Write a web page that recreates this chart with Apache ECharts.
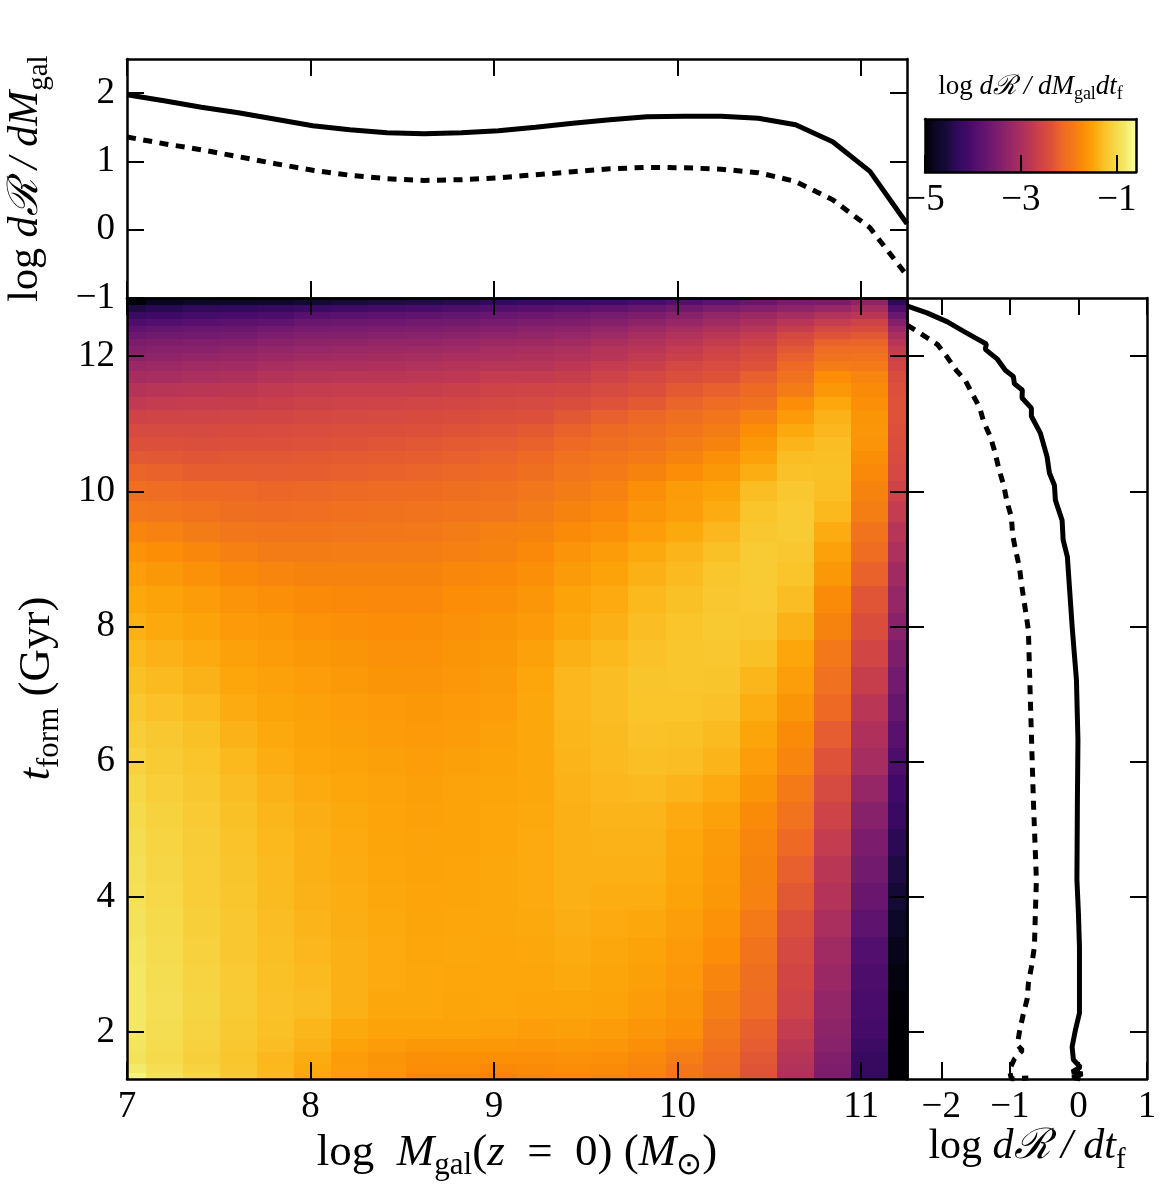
<!DOCTYPE html>
<html>
<head>
<meta charset="utf-8">
<style>
  html, body { margin: 0; padding: 0; background: #fff; }
  #main { width: 1169px; height: 1196px; }
</style>
<script src="https://cdn.jsdelivr.net/npm/echarts@6/dist/echarts.min.js"></script>
</head>
<body>
<div id="main"></div>
<script>
// bin centres of the heatmap (log stellar mass, one per column)
const logMass = [7, 7.202, 7.405, 7.607, 7.81, 8.012, 8.214, 8.417, 8.619, 8.821, 9.024,
  9.226, 9.429, 9.631, 9.833, 10.036, 10.238, 10.44, 10.643, 10.845, 11.048, 11.25];

// rows of the heatmap, read at these formation times (Gyr)
const tForm = [12.8, 12.7, 12.6, 12.5, 12.4, 12.3, 12.2, 12.1, 12.0, 11.85, 11.7, 11.5, 11.3, 11.1, 10.9,
  10.7, 10.5, 10.3, 10.0, 9.7, 9.4, 9.1, 8.8, 8.4, 8.0, 7.6, 7.2, 6.8, 6.4, 6.0, 5.6, 5.2, 4.8, 4.4, 4.0,
  3.6, 3.2, 2.8, 2.4, 2.0, 1.8, 1.6, 1.45, 1.35];

// log dR/dM/dt, one line per tForm, one value per logMass
const rate = [
  [-4.95,-4.8,-4.75,-4.72,-4.7,-4.62,-4.55,-4.5,-4.45,-4.4,-4.3,-4.25,-4.2,-4.15,-4.05,-3.95,-3.8,-3.7,-3.55,-3.5,-3.3,-4.35],
  [-4.5,-4.4,-4.35,-4.3,-4.25,-4.2,-4.15,-4.1,-4.05,-4.0,-3.95,-3.9,-3.85,-3.8,-3.72,-3.62,-3.5,-3.4,-3.3,-3.2,-3.05,-4.0],
  [-4.2,-4.15,-4.1,-4.05,-4.0,-3.9,-3.85,-3.8,-3.78,-3.75,-3.7,-3.65,-3.62,-3.55,-3.48,-3.38,-3.25,-3.15,-3.05,-2.92,-2.82,-3.68],
  [-4.0,-3.95,-3.9,-3.85,-3.8,-3.7,-3.68,-3.65,-3.62,-3.6,-3.55,-3.5,-3.48,-3.4,-3.32,-3.22,-3.1,-3.0,-2.85,-2.7,-2.6,-3.4],
  [-3.8,-3.75,-3.7,-3.68,-3.62,-3.55,-3.52,-3.5,-3.48,-3.45,-3.4,-3.35,-3.32,-3.25,-3.15,-3.05,-2.95,-2.85,-2.68,-2.5,-2.45,-3.18],
  [-3.65,-3.62,-3.58,-3.55,-3.48,-3.42,-3.4,-3.38,-3.35,-3.32,-3.28,-3.25,-3.2,-3.12,-3.02,-2.92,-2.82,-2.72,-2.52,-2.35,-2.3,-3.0],
  [-3.5,-3.48,-3.44,-3.42,-3.35,-3.3,-3.28,-3.25,-3.23,-3.2,-3.15,-3.12,-3.08,-3.0,-2.92,-2.82,-2.72,-2.62,-2.4,-2.2,-2.18,-2.85],
  [-3.4,-3.38,-3.34,-3.3,-3.25,-3.2,-3.18,-3.15,-3.12,-3.1,-3.05,-3.02,-2.98,-2.9,-2.82,-2.72,-2.62,-2.52,-2.3,-2.1,-2.08,-2.72],
  [-3.32,-3.28,-3.24,-3.2,-3.15,-3.1,-3.08,-3.06,-3.05,-3.0,-2.98,-2.95,-2.92,-2.85,-2.75,-2.65,-2.55,-2.45,-2.22,-2.02,-2.0,-2.65],
  [-3.18,-3.15,-3.1,-3.08,-3.03,-2.98,-2.96,-2.94,-2.92,-2.9,-2.86,-2.85,-2.8,-2.72,-2.65,-2.52,-2.45,-2.35,-2.12,-1.88,-1.9,-2.55],
  [-3.05,-3.02,-2.98,-2.95,-2.9,-2.85,-2.83,-2.82,-2.8,-2.78,-2.72,-2.72,-2.68,-2.6,-2.52,-2.4,-2.35,-2.22,-2.02,-1.7,-1.78,-2.45],
  [-2.9,-2.85,-2.82,-2.8,-2.75,-2.72,-2.7,-2.7,-2.68,-2.65,-2.6,-2.58,-2.55,-2.48,-2.4,-2.28,-2.22,-2.12,-1.88,-1.6,-1.72,-2.38],
  [-2.75,-2.72,-2.7,-2.68,-2.65,-2.62,-2.6,-2.58,-2.56,-2.54,-2.5,-2.48,-2.42,-2.35,-2.28,-2.18,-2.1,-2.02,-1.7,-1.46,-1.68,-2.35],
  [-2.6,-2.58,-2.58,-2.56,-2.55,-2.52,-2.5,-2.48,-2.46,-2.44,-2.4,-2.38,-2.3,-2.22,-2.15,-2.05,-1.97,-1.82,-1.58,-1.38,-1.63,-2.35],
  [-2.48,-2.48,-2.48,-2.46,-2.45,-2.43,-2.41,-2.4,-2.38,-2.35,-2.32,-2.28,-2.2,-2.13,-2.05,-1.96,-1.88,-1.7,-1.45,-1.34,-1.62,-2.38],
  [-2.38,-2.38,-2.4,-2.38,-2.37,-2.36,-2.34,-2.32,-2.3,-2.27,-2.25,-2.2,-2.12,-2.05,-1.98,-1.88,-1.8,-1.6,-1.36,-1.3,-1.64,-2.42],
  [-2.28,-2.3,-2.32,-2.3,-2.3,-2.28,-2.27,-2.26,-2.24,-2.22,-2.18,-2.12,-2.02,-1.97,-1.9,-1.8,-1.68,-1.52,-1.3,-1.28,-1.69,-2.45],
  [-2.18,-2.2,-2.24,-2.24,-2.25,-2.24,-2.22,-2.2,-2.18,-2.15,-2.12,-2.05,-1.95,-1.9,-1.8,-1.7,-1.6,-1.42,-1.26,-1.27,-1.74,-2.5],
  [-2.05,-2.08,-2.12,-2.14,-2.16,-2.15,-2.13,-2.11,-2.09,-2.05,-2.02,-1.95,-1.88,-1.82,-1.68,-1.56,-1.5,-1.3,-1.2,-1.28,-1.8,-2.6],
  [-1.92,-1.95,-2.0,-2.05,-2.08,-2.06,-2.04,-2.02,-2.0,-1.97,-1.95,-1.88,-1.8,-1.75,-1.62,-1.54,-1.43,-1.24,-1.18,-1.33,-1.86,-2.72],
  [-1.78,-1.82,-1.88,-1.94,-1.97,-1.96,-1.95,-1.94,-1.92,-1.88,-1.84,-1.8,-1.72,-1.66,-1.55,-1.45,-1.34,-1.2,-1.17,-1.43,-1.98,-2.85],
  [-1.65,-1.7,-1.76,-1.84,-1.88,-1.88,-1.87,-1.87,-1.86,-1.83,-1.8,-1.74,-1.64,-1.56,-1.45,-1.36,-1.27,-1.17,-1.2,-1.52,-2.08,-2.97],
  [-1.55,-1.6,-1.66,-1.74,-1.78,-1.8,-1.8,-1.8,-1.8,-1.76,-1.74,-1.68,-1.57,-1.5,-1.4,-1.32,-1.22,-1.17,-1.24,-1.6,-2.2,-3.1],
  [-1.46,-1.5,-1.56,-1.64,-1.68,-1.72,-1.74,-1.75,-1.75,-1.7,-1.68,-1.62,-1.5,-1.44,-1.33,-1.27,-1.2,-1.18,-1.3,-1.72,-2.32,-3.22],
  [-1.4,-1.45,-1.5,-1.58,-1.6,-1.65,-1.68,-1.7,-1.69,-1.66,-1.63,-1.58,-1.46,-1.4,-1.3,-1.24,-1.19,-1.2,-1.38,-1.8,-2.42,-3.35],
  [-1.33,-1.38,-1.44,-1.52,-1.56,-1.6,-1.63,-1.66,-1.66,-1.63,-1.6,-1.52,-1.4,-1.33,-1.26,-1.22,-1.2,-1.27,-1.47,-1.92,-2.55,-3.48],
  [-1.27,-1.32,-1.38,-1.47,-1.52,-1.55,-1.59,-1.63,-1.64,-1.61,-1.57,-1.47,-1.34,-1.29,-1.23,-1.22,-1.23,-1.35,-1.54,-2.03,-2.68,-3.6],
  [-1.2,-1.26,-1.32,-1.43,-1.48,-1.52,-1.55,-1.58,-1.6,-1.58,-1.55,-1.46,-1.34,-1.29,-1.24,-1.24,-1.26,-1.42,-1.63,-2.12,-2.82,-3.72],
  [-1.14,-1.21,-1.27,-1.38,-1.45,-1.5,-1.53,-1.56,-1.58,-1.56,-1.52,-1.46,-1.35,-1.31,-1.26,-1.27,-1.31,-1.48,-1.72,-2.25,-2.94,-3.88],
  [-1.08,-1.17,-1.24,-1.33,-1.42,-1.47,-1.5,-1.53,-1.55,-1.53,-1.5,-1.46,-1.36,-1.32,-1.28,-1.3,-1.36,-1.55,-1.78,-2.35,-3.05,-4.0],
  [-1.04,-1.13,-1.2,-1.29,-1.38,-1.44,-1.47,-1.51,-1.53,-1.51,-1.48,-1.46,-1.38,-1.34,-1.32,-1.37,-1.44,-1.63,-1.9,-2.48,-3.22,-4.12],
  [-1.0,-1.09,-1.18,-1.27,-1.35,-1.41,-1.45,-1.49,-1.52,-1.5,-1.47,-1.45,-1.39,-1.36,-1.36,-1.44,-1.52,-1.72,-2.0,-2.6,-3.38,-4.22],
  [-0.97,-1.07,-1.16,-1.25,-1.33,-1.4,-1.44,-1.48,-1.51,-1.5,-1.47,-1.44,-1.39,-1.38,-1.38,-1.47,-1.57,-1.77,-2.12,-2.72,-3.5,-4.38],
  [-0.94,-1.05,-1.15,-1.23,-1.32,-1.39,-1.43,-1.47,-1.5,-1.49,-1.46,-1.44,-1.4,-1.4,-1.4,-1.48,-1.59,-1.8,-2.22,-2.82,-3.6,-4.5],
  [-0.92,-1.03,-1.14,-1.22,-1.31,-1.38,-1.42,-1.46,-1.49,-1.48,-1.46,-1.44,-1.4,-1.42,-1.42,-1.5,-1.6,-1.82,-2.3,-2.9,-3.7,-4.6],
  [-0.9,-1.01,-1.12,-1.21,-1.3,-1.36,-1.41,-1.45,-1.48,-1.47,-1.46,-1.45,-1.41,-1.44,-1.46,-1.54,-1.65,-1.9,-2.4,-3.0,-3.82,-4.75],
  [-0.88,-0.99,-1.1,-1.2,-1.28,-1.34,-1.4,-1.44,-1.47,-1.46,-1.47,-1.46,-1.43,-1.46,-1.5,-1.58,-1.7,-1.98,-2.5,-3.1,-3.95,-4.85],
  [-0.86,-0.97,-1.08,-1.18,-1.27,-1.32,-1.4,-1.44,-1.46,-1.47,-1.47,-1.47,-1.45,-1.48,-1.53,-1.61,-1.78,-2.05,-2.55,-3.18,-4.0,-4.92],
  [-0.85,-0.96,-1.06,-1.17,-1.26,-1.3,-1.4,-1.46,-1.46,-1.48,-1.47,-1.49,-1.48,-1.5,-1.56,-1.64,-1.85,-2.1,-2.6,-3.25,-4.05,-4.97],
  [-0.86,-0.97,-1.08,-1.19,-1.27,-1.35,-1.45,-1.5,-1.5,-1.5,-1.52,-1.55,-1.53,-1.56,-1.62,-1.68,-1.92,-2.2,-2.72,-3.3,-4.1,-5],
  [-0.88,-0.99,-1.1,-1.2,-1.3,-1.38,-1.5,-1.56,-1.6,-1.6,-1.6,-1.62,-1.6,-1.62,-1.68,-1.78,-2.0,-2.25,-2.8,-3.36,-4.18,-5],
  [-0.9,-1.0,-1.12,-1.22,-1.34,-1.43,-1.56,-1.63,-1.68,-1.67,-1.67,-1.68,-1.66,-1.68,-1.75,-1.87,-2.07,-2.3,-2.87,-3.44,-4.25,-5],
  [-0.82,-0.96,-1.08,-1.21,-1.33,-1.45,-1.55,-1.62,-1.7,-1.7,-1.74,-1.72,-1.7,-1.72,-1.78,-1.93,-2.1,-2.33,-2.92,-3.48,-4.27,-5],
  [-0.72,-0.9,-1.04,-1.19,-1.32,-1.46,-1.56,-1.63,-1.74,-1.74,-1.8,-1.74,-1.72,-1.74,-1.8,-1.95,-2.12,-2.35,-2.95,-3.5,-4.28,-5]
];

// top panel, log dR/dM at each logMass
const massSolid = [1.977, 1.889, 1.794, 1.713, 1.618, 1.523, 1.464, 1.42, 1.406, 1.42, 1.45,
  1.5, 1.56, 1.61, 1.654, 1.662, 1.662, 1.632, 1.537, 1.288, 0.854, 0.088];
const massDashed = [1.357, 1.259, 1.171, 1.069, 0.966, 0.871, 0.798, 0.747, 0.722, 0.732, 0.761,
  0.805, 0.849, 0.893, 0.912, 0.908, 0.886, 0.835, 0.707, 0.439, 0.029, -0.673];

// right panel, log dR/dt against t
const timeSolidT = [12.74, 12.64, 12.51, 12.37, 12.27, 12.18, 12.1, 11.96, 11.79, 11.7, 11.59, 11.5, 11.38,
  11.23, 11.11, 10.86, 10.51, 10.27, 10.09, 9.87, 9.57, 9.28, 9.03, 8.58, 7.95, 7.21, 6.32, 5.43, 4.25,
  3.76, 3.26, 2.67, 2.28, 2.03, 1.78, 1.59, 1.48, 1.41, 1.38, 1.33, 1.305];
const timeSolid = [-2.492, -2.209, -1.917, -1.679, -1.504, -1.343, -1.358, -1.187, -1.066, -0.949, -0.934,
  -0.818, -0.822, -0.686, -0.686, -0.555, -0.457, -0.423, -0.35, -0.336, -0.238, -0.223, -0.161, -0.131,
  -0.088, -0.029, -0.007, -0.015, -0.022, 0, 0.015, 0.015, 0.015, -0.044, -0.092, -0.073, 0.029, -0.092,
  0.058, -0.088, 0.029];
const timeDashedT = [12.46, 12.29, 12.17, 11.99, 11.79, 11.64, 11.45, 11.24, 11.03, 10.81, 10.56, 10.34, 10.09,
  9.84, 9.62, 9.35, 9.1, 8.88, 8.64, 7.95, 6.91, 5.43, 4.25, 3.76, 3.26, 2.96, 2.72, 2.5, 2.25, 2.0, 1.81,
  1.73, 1.6, 1.44, 1.305, 1.32];
const timeDashed = [-2.496, -2.234, -2.054, -1.917, -1.781, -1.65, -1.552, -1.441, -1.382, -1.285, -1.212,
  -1.163, -1.09, -1.041, -0.978, -0.959, -0.91, -0.861, -0.832, -0.73, -0.701, -0.657, -0.613, -0.628,
  -0.642, -0.686, -0.73, -0.745, -0.807, -0.861, -0.891, -0.818, -0.934, -1.007, -0.978, -0.73];

const inferno = ['#000004', '#0b0724', '#160b39', '#2f0a5b', '#420a68', '#57106e', '#6a176e', '#7f1e6c',
  '#932667', '#a82e5f', '#bc3754', '#cf4446', '#dd513a', '#ed6925', '#f37819', '#fb8d07', '#fca50a',
  '#fac228', '#f6d746', '#f2ea69', '#fcffa4'];

const massTicks = [7, 8, 9, 10, 11];
const timeTicks = [2, 4, 6, 8, 10, 12];
const dMassTicks = [-1, 0, 1, 2];
const dTimeTicks = [-2, -1, 0, 1];
const barTicks = [-5, -3, -1];

const MASS_MIN = 7, MASS_MAX = 11.25;
const T_MIN = 1.305, T_MAX = 12.86;
const BAR_MIN = -5, BAR_MAX = -0.6;
const SERIF = '"Liberation Serif", serif';

var chart = echarts.init(document.getElementById('main'), null, { renderer: 'canvas' });

// cell edges are the midpoints between neighbouring centres, cut at the axis limits
function edges(centres, lo, hi) {
  var out = [];
  for (var i = 0; i < centres.length; i++) {
    var a = i == 0 ? centres[0] : (centres[i - 1] + centres[i]) / 2;
    var b = i == centres.length - 1 ? centres[i] : (centres[i] + centres[i + 1]) / 2;
    out.push([Math.max(lo, Math.min(a, b)), Math.min(hi, Math.max(a, b))]);
  }
  return out;
}

var xEdges = edges(logMass, MASS_MIN, MASS_MAX);
var yEdges = edges(tForm, T_MIN, T_MAX);
yEdges[0][1] = T_MAX;
yEdges[yEdges.length - 1][0] = T_MIN;

var cells = [];
rate.forEach(function (row, j) {
  row.forEach(function (v, i) {
    cells.push([xEdges[i][0], xEdges[i][1], yEdges[j][0], yEdges[j][1], v]);
  });
});

function renderCell(params, api) {
  var a = api.coord([api.value(0), api.value(3)]);
  var b = api.coord([api.value(1), api.value(2)]);
  var x = Math.round(a[0]), y = Math.round(a[1]);
  return {
    type: 'rect',
    shape: { x: x, y: y, width: Math.round(b[0]) - x, height: Math.round(b[1]) - y },
    style: { fill: api.visual('color') }
  };
}

// colour bar is one box filled with the colour map
function renderBar(params, api) {
  var a = api.coord([BAR_MIN, 1]);
  var b = api.coord([BAR_MAX, 0]);
  return {
    type: 'rect',
    shape: { x: a[0], y: a[1], width: b[0] - a[0], height: b[1] - a[1] },
    style: {
      fill: new echarts.graphic.LinearGradient(0, 0, 1, 0, inferno.map(function (c, i) {
        return { offset: i / (inferno.length - 1), color: c };
      }))
    }
  };
}

function tickLabel(v) {
  return String(v).replace('-', '\u2212');
}

// every panel edge is its own axis: ticks point inward, labels only where asked
function makeAxis(gridIndex, position, min, max, ticks, showLabel, extra) {
  return Object.assign({
    type: 'value',
    gridIndex: gridIndex,
    position: position,
    min: min,
    max: max,
    z: 10,
    silent: true,
    axisLine: { show: true, onZero: false, lineStyle: { color: '#000', width: 2.5 } },
    axisTick: { show: true, inside: true, length: 17, customValues: ticks, lineStyle: { color: '#000', width: 2 } },
    axisLabel: {
      show: showLabel,
      customValues: ticks,
      formatter: tickLabel,
      color: '#000',
      fontFamily: SERIF,
      fontSize: 37,
      margin: position == 'left' ? 12 : 10
    },
    splitLine: { show: false }
  }, extra || {});
}

var nameRich = {
  n: { fontFamily: SERIF, fontSize: 42, color: '#000', lineHeight: 56, verticalAlign: 'middle' },
  i: { fontFamily: SERIF, fontSize: 42, fontStyle: 'italic', color: '#000', lineHeight: 56, verticalAlign: 'middle' },
  s: { fontFamily: SERIF, fontSize: 29, color: '#000', lineHeight: 56, verticalAlign: 'bottom' },
  xn: { fontFamily: SERIF, fontSize: 45, color: '#000', lineHeight: 56, verticalAlign: 'middle' },
  xi: { fontFamily: SERIF, fontSize: 45, fontStyle: 'italic', color: '#000', lineHeight: 56, verticalAlign: 'middle' },
  xs: { fontFamily: SERIF, fontSize: 31, color: '#000', lineHeight: 56, verticalAlign: 'bottom' },
  c: { fontFamily: SERIF, fontSize: 27, color: '#000', lineHeight: 32, verticalAlign: 'middle' },
  ci: { fontFamily: SERIF, fontSize: 27, fontStyle: 'italic', color: '#000', lineHeight: 32, verticalAlign: 'middle' },
  cs: { fontFamily: SERIF, fontSize: 18, color: '#000', lineHeight: 32, verticalAlign: 'bottom' }
};

function axisName(text, gap, rotate) {
  return {
    name: text,
    nameLocation: 'middle',
    nameGap: gap,
    nameRotate: rotate,
    nameMoveOverlap: false,
    nameTextStyle: { rich: nameRich }
  };
}

var option = {
  animation: false,
  backgroundColor: '#fff',
  grid: [
    { left: 127, top: 59, width: 780, height: 239, outerBoundsMode: 'none' },   // top panel
    { left: 127, top: 298, width: 780, height: 781, outerBoundsMode: 'none' },  // heatmap
    { left: 907, top: 298, width: 240, height: 781, outerBoundsMode: 'none' },  // right panel
    { left: 925, top: 119, width: 211, height: 53, outerBoundsMode: 'none' }    // colour bar
  ],
  visualMap: {
    show: false,
    type: 'continuous',
    min: BAR_MIN,
    max: BAR_MAX,
    dimension: 4,
    seriesIndex: 0,
    inRange: { color: inferno }
  },
  xAxis: [
    makeAxis(0, 'bottom', MASS_MIN, MASS_MAX, massTicks, false),
    makeAxis(0, 'top', MASS_MIN, MASS_MAX, massTicks, false),
    makeAxis(1, 'bottom', MASS_MIN, MASS_MAX, massTicks, true,
      axisName('{xn|log  }{xi|M}{xs|gal}{xn|(}{xi|z}{xn|  =  0) (}{xi|M}{xs|\u2299}{xn|)}', 46)),
    makeAxis(1, 'top', MASS_MIN, MASS_MAX, massTicks, false),
    makeAxis(2, 'bottom', -2.5, 1, dTimeTicks, true,
      axisName('{n|log }{i|d\u211B / dt}{s|f}', 40)),
    makeAxis(2, 'top', -2.5, 1, dTimeTicks, false),
    makeAxis(3, 'bottom', BAR_MIN, BAR_MAX, barTicks, true),
    makeAxis(3, 'top', BAR_MIN, BAR_MAX, [], false, {
      axisTick: { show: false },
      name: '{c|log }{ci|d\u211B / dM}{cs|gal}{ci|dt}{cs|f}',
      nameLocation: 'middle',
      nameGap: 16,
      nameMoveOverlap: false,
      nameTextStyle: { rich: nameRich }
    })
  ],
  yAxis: [
    makeAxis(0, 'left', -1, 2.5, dMassTicks, true,
      axisName('{n|log }{i|d\u211B / dM}{s|gal}', 73, 90)),
    makeAxis(0, 'right', -1, 2.5, dMassTicks, false),
    makeAxis(1, 'left', T_MIN, T_MAX, timeTicks, true,
      axisName('{xi|t}{xs|form}{xn| (Gyr)}', 62, 90)),
    makeAxis(1, 'right', T_MIN, T_MAX, timeTicks, false),
    makeAxis(2, 'left', T_MIN, T_MAX, timeTicks, false),
    makeAxis(2, 'right', T_MIN, T_MAX, timeTicks, false),
    makeAxis(3, 'left', 0, 1, [], false, { axisTick: { show: false } }),
    makeAxis(3, 'right', 0, 1, [], false, { axisTick: { show: false } })
  ],
  series: [
    {
      type: 'custom',
      name: 'rate',
      xAxisIndex: 2,
      yAxisIndex: 2,
      renderItem: renderCell,
      data: cells,
      encode: { x: [0, 1], y: [2, 3] },
      silent: true
    },
    {
      type: 'line',
      xAxisIndex: 0,
      yAxisIndex: 0,
      showSymbol: false,
      silent: true,
      data: logMass.map(function (m, i) { return [m, massSolid[i]]; }),
      lineStyle: { color: '#000', width: 5 }
    },
    {
      type: 'line',
      xAxisIndex: 0,
      yAxisIndex: 0,
      showSymbol: false,
      silent: true,
      data: logMass.map(function (m, i) { return [m, massDashed[i]]; }),
      lineStyle: { color: '#000', width: 5, type: [9, 7.5] }
    },
    {
      type: 'line',
      xAxisIndex: 4,
      yAxisIndex: 4,
      showSymbol: false,
      silent: true,
      data: timeSolid.map(function (v, i) { return [v, timeSolidT[i]]; }),
      lineStyle: { color: '#000', width: 5 }
    },
    {
      type: 'line',
      xAxisIndex: 4,
      yAxisIndex: 4,
      showSymbol: false,
      silent: true,
      data: timeDashed.map(function (v, i) { return [v, timeDashedT[i]]; }),
      lineStyle: { color: '#000', width: 5, type: [9, 7.5] }
    },
    {
      type: 'custom',
      name: 'bar',
      xAxisIndex: 6,
      yAxisIndex: 6,
      renderItem: renderBar,
      data: [[BAR_MIN, BAR_MAX]],
      encode: { x: [0, 1] },
      silent: true
    }
  ]
};

chart.setOption(option);
</script>
</body>
</html>
